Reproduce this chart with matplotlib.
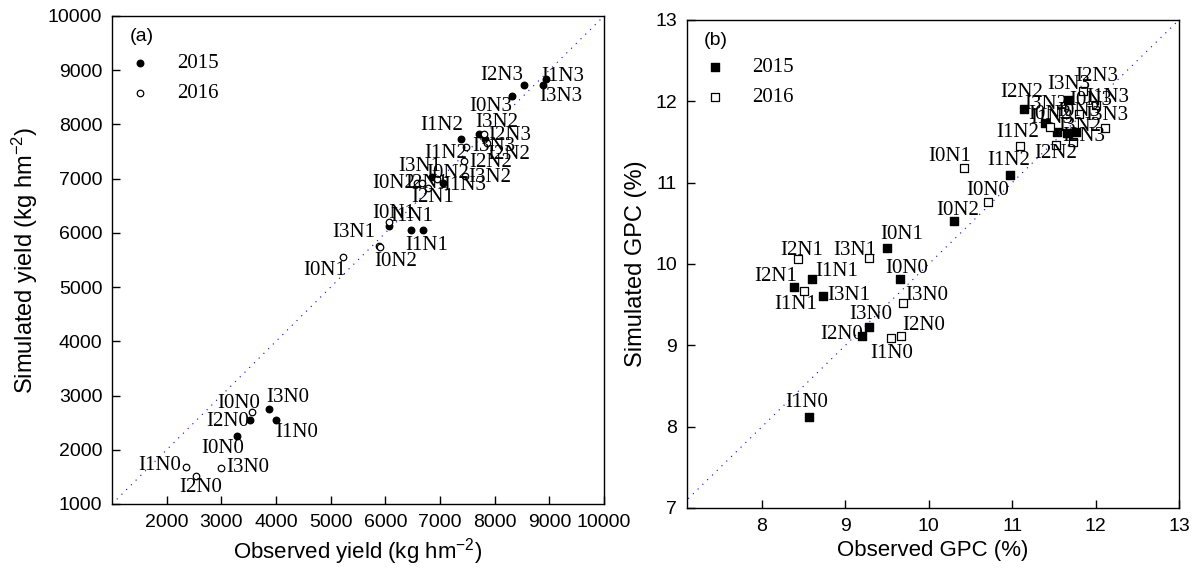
import matplotlib
matplotlib.use('Agg')
from matplotlib import pyplot as plt

plt.rcParams['font.family'] = 'Liberation Sans'
plt.rcParams['mathtext.default'] = 'regular'

# (a) yield, 2015 (filled) and 2016 (open)
yield_lab_15 = ['I0N0', 'I1N0', 'I2N0', 'I3N0', 'I2N3', 'I1N3', 'I3N3', 'I0N3',
                'I1N2', 'I3N2', 'I3N3', 'I3N1', 'I1N3', 'I0N1', 'I1N1', '']
yield_obs_15 = [3281, 4000, 3524, 3877, 8537, 8934, 8879, 8317,
                7379, 7708, 7829, 6848, 7061, 6067, 6695, 6470]
yield_sim_15 = [2249, 2555, 2555, 2758, 8728, 8833, 8728, 8525,
                7732, 7824, 7732, 7036, 6926, 6133, 6048, 6048]

yield_lab_16 = ['I0N0', 'I1N0', 'I2N0', 'I3N0', 'I2N3', 'I2N2', 'I1N2', 'I2N2', 'I3N2',
                'I0N2', 'I0N2', 'I2N1', 'I2N1', 'I1N1', 'I3N1', 'I0N2', 'I0N1']
yield_obs_16 = [3567, 2354, 2531, 2994, 7811, 7860, 7476, 7445, 7457,
                6940, 6574, 6665, 6781, 6067, 5890, 5900, 5220]
yield_sim_16 = [2691, 1688, 1522, 1669, 7818, 7658, 7579, 7326, 7049,
                6988, 6915, 6915, 6828, 6201, 5758, 5740, 5550]

# (b) GPC
gpc_lab_15 = ['I0N0', 'I1N0', 'I2N0', 'I3N0', 'I0N1', 'I1N1', 'I2N1', 'I3N1',
              'I0N2', 'I1N2', 'I2N2', 'I3N2', 'I0N3', 'I1N3', 'I2N3', 'I3N3']
gpc_obs_15 = [9.654, 8.559, 9.195, 9.286, 9.495, 8.595, 8.383, 8.727,
              10.30, 10.973, 11.137, 11.393, 11.653, 11.54, 11.76, 11.668]
gpc_sim_15 = [9.812, 8.115, 9.118, 9.229, 10.20, 9.812, 9.714, 9.607,
              10.53, 11.094, 11.906, 11.738, 11.607, 11.627, 11.62, 12.017]

gpc_lab_16 = ['I0N0', 'I1N0', 'I2N0', 'I3N0', 'I0N1', 'I1N1', 'I2N1', 'I3N1',
              'I0N2', 'I1N2', 'I2N2', 'I3N2', 'I0N3', 'I1N3', 'I2N3', 'I3N3']
gpc_obs_16 = [10.709, 9.551, 9.671, 9.687, 10.418, 8.507, 8.435, 9.283,
              11.453, 11.093, 11.528, 11.728, 11.80, 12.00, 11.848, 12.119]
gpc_sim_16 = [10.759, 9.094, 9.115, 9.517, 11.184, 9.668, 10.058, 10.070,
              11.685, 11.455, 11.467, 11.50, 11.85, 11.95, 12.127, 11.668]

# label offsets (pixels) -- layout only
off_y15 = [(-14, -12), (21, -13), (-22, -2), (18, 11), (-22, 9), (17, 3), (18, -12), (-21, -11),
           (-19, 13), (18, 11), (8, -8), (-12, 10), (21, -3), (5, 12), (3, -15), (0, 0)]
off_y16 = [(-14, 9), (-26, 1), (5, -12), (27, 0), (25, -1), (22, -12), (-20, -6), (26, -2), (25, -2),
           (11, 6), (-23, 0), (5, 0), (5, -10), (23, 5), (-26, 13), (16, -15), (-18, -13)]
off_g15 = [(7, 11), (-2, 15), (-20, 1), (2, 12), (15, 13), (25, 8), (-18, 11), (26, 0),
           (4, 10), (-1, 15), (-2, 16), (1, 18), (12, 22), (-5, 13), (8, -4), (1, 15)]
off_g16 = [(0, 12), (0, -16), (22, 10), (24, 8), (-14, 11), (-9, -14), (3, 9), (-14, 8),
           (0, 12), (-2, 13), (0, -9), (7, 15), (12, 13), (12, 8), (14, 14), (1, 13)]

serif = 'Liberation Serif'

fig = plt.figure(figsize=(11.97, 5.74), dpi=100)
ax1 = fig.add_axes([0.0936, 0.1220, 0.4110, 0.8502])
ax2 = fig.add_axes([0.5739, 0.1150, 0.4110, 0.8502])


def panel(ax, lims, obs15, sim15, lab15, off15, obs16, sim16, lab16, off16, marker, ms):
    ax.plot(lims, lims, color='blue', linestyle=(0, (1, 5)), linewidth=0.8, zorder=1)
    ax.scatter(obs15, sim15, marker=marker, s=ms, c='black', label='2015', zorder=3)
    ax.scatter(obs16, sim16, marker=marker, s=ms, facecolors='white', edgecolors='black',
               linewidths=0.9, label='2016', zorder=3)
    for x, y, t, o in zip(obs15, sim15, lab15, off15):
        ax.annotate(t, (x, y), xytext=o, textcoords='offset pixels', ha='center', va='center',
                    fontsize=15, family=serif, zorder=4)
    for x, y, t, o in zip(obs16, sim16, lab16, off16):
        ax.annotate(t, (x, y), xytext=o, textcoords='offset pixels', ha='center', va='center',
                    fontsize=15, family=serif, zorder=4)
    ax.tick_params(direction='in', length=6, width=1, labelsize=14, pad=7)
    for s in ax.spines.values():
        s.set_linewidth(1)
    ax.legend(loc='upper left', bbox_to_anchor=(0.018, 0.94), frameon=False, borderaxespad=0,
              handlelength=1, handletextpad=1.3, labelspacing=0.5, prop={'family': serif, 'size': 15})


panel(ax1, [1000, 10000], yield_obs_15, yield_sim_15, yield_lab_15, off_y15,
      yield_obs_16, yield_sim_16, yield_lab_16, off_y16, 'o', 22)
ax1.set_xlim(1000, 10000)
ax1.set_ylim(1000, 10000)
ax1.set_xticks(range(2000, 10001, 1000))
ax1.set_yticks(range(1000, 10001, 1000))
ax1.set_xlabel('Observed yield (kg hm$^{-2}$)', fontsize=16, labelpad=4)
ax1.set_ylabel('Simulated yield (kg hm$^{-2}$)', fontsize=17, labelpad=6)
ax1.text(0.035, 0.975, '(a)', transform=ax1.transAxes, fontsize=14, va='top')

panel(ax2, [7, 13], gpc_obs_15, gpc_sim_15, gpc_lab_15, off_g15,
      gpc_obs_16, gpc_sim_16, gpc_lab_16, off_g16, 's', 30)
ax2.set_xlim(7.1, 13)
ax2.set_ylim(7, 13)
ax2.set_xticks(range(8, 14))
ax2.set_yticks(range(7, 14))
ax2.set_xlabel('Observed GPC (%)', fontsize=16, labelpad=4)
ax2.set_ylabel('Simulated GPC (%)', fontsize=17, labelpad=6)
ax2.text(0.035, 0.975, '(b)', transform=ax2.transAxes, fontsize=14, va='top')

fig.savefig('out.png')
